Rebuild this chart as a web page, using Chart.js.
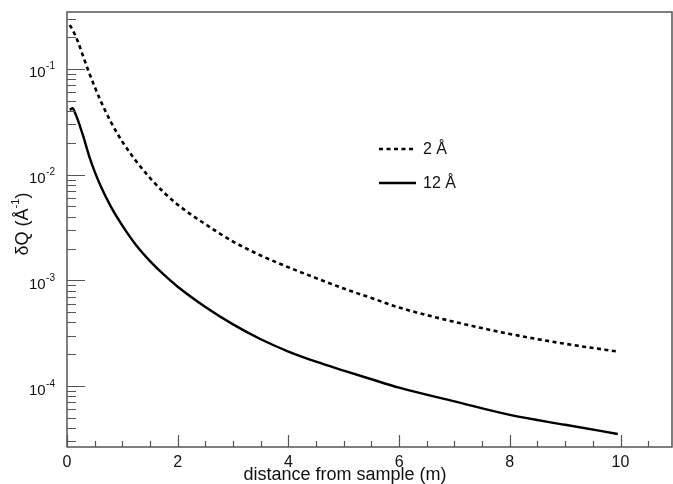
<!DOCTYPE html>
<html>
<head>
<meta charset="utf-8">
<script src="https://cdn.jsdelivr.net/npm/chart.js"></script>
<style>
  html, body { margin: 0; padding: 0; background: #fff; }
  #wrap { width: 673px; height: 484px; }
</style>
</head>
<body>
<div id="wrap"><canvas id="plot"></canvas></div>
<script>
// distance from sample (m) and resolution dQ (1/Angstrom)
const distance = [0.05, 0.1, 0.15, 0.2, 0.3, 0.4, 0.5, 0.6, 0.8, 1.0, 1.25, 1.5, 1.75, 2.0,
                  2.5, 3.0, 3.5, 4.0, 4.5, 5.0, 5.5, 6.0, 7.0, 8.0, 9.0, 9.95];
const dq2A  = [0.26, 0.235, 0.207, 0.18, 0.128, 0.092, 0.068, 0.051, 0.031, 0.0205, 0.0134, 0.0093, 0.0068, 0.0052,
               0.0034, 0.00233, 0.00172, 0.00133, 0.00105, 0.000837, 0.000681, 0.000553, 0.000405, 0.000311, 0.000251, 0.000212];
const dq12A = [0.041, 0.0425, 0.038, 0.0325, 0.0225, 0.015, 0.0107, 0.008, 0.0049, 0.0033, 0.00215, 0.00152, 0.00113, 0.00087,
               0.00056, 0.000383, 0.000277, 0.000212, 0.00017, 0.00014, 0.000116, 0.0000965, 0.0000715, 0.0000533, 0.000043, 0.0000352];

const seriesLabels = ['2 Å', '12 Å'];
const xTickValues = [0, 2, 4, 6, 8, 10];
const xTickLabels = ['0', '2', '4', '6', '8', '10'];
const xMinorStep = 0.5;
const yTickValues = [1e-4, 1e-3, 1e-2, 1e-1];
const yTickExponents = ['-4', '-3', '-2', '-1'];
const xTitle = 'distance from sample (m)';

const X_MIN = 0, X_MAX = 10.93;
const Y_MIN = 2.65e-5, Y_MAX = 0.346;

const FONT = '"Liberation Sans", Arial, sans-serif';
const AXIS_COLOR = '#555';

function pts(ys) {
  return distance.map((d, i) => ({ x: d, y: ys[i] }));
}

// ROOT-like frame: ticks drawn inward, 10^n labels with superscripts
const rootAxes = {
  id: 'rootAxes',
  afterDraw(chart) {
    const { ctx, chartArea: a, scales } = chart;
    const xs = scales.x, ys = scales.y;
    ctx.save();

    // frame
    ctx.strokeStyle = AXIS_COLOR;
    ctx.lineWidth = 1.5;
    ctx.strokeRect(a.left, a.top, a.right - a.left, a.bottom - a.top);

    // x ticks
    ctx.lineWidth = 1.2;
    ctx.beginPath();
    for (let v = X_MIN; v <= X_MAX + 1e-9; v += xMinorStep) {
      const px = Math.round(xs.getPixelForValue(v)) + 0.5;
      const major = xTickValues.some(t => Math.abs(t - v) < 1e-6);
      ctx.moveTo(px, a.bottom);
      ctx.lineTo(px, a.bottom - (major ? 12 : 6));
    }
    // y ticks
    for (let e = -5; e <= 0; e++) {
      for (let m = 1; m <= 9; m++) {
        const v = m * Math.pow(10, e);
        if (v < Y_MIN || v > Y_MAX) continue;
        const py = Math.round(ys.getPixelForValue(v)) + 0.5;
        ctx.moveTo(a.left, py);
        ctx.lineTo(a.left + (m === 1 ? 18 : 9), py);
      }
    }
    ctx.stroke();

    // x labels
    ctx.fillStyle = '#111';
    ctx.font = '16px ' + FONT;
    ctx.textAlign = 'center';
    ctx.textBaseline = 'alphabetic';
    xTickValues.forEach((v, i) => {
      ctx.fillText(xTickLabels[i], xs.getPixelForValue(v), a.bottom + 19.5);
    });

    // y labels: 10 with superscript exponent
    yTickValues.forEach((v, i) => {
      const py = ys.getPixelForValue(v);
      const right = a.left - 12;
      ctx.textAlign = 'right';
      ctx.font = '10px ' + FONT;
      const ws = ctx.measureText(yTickExponents[i]).width;
      ctx.fillText(yTickExponents[i], right, py + 0.5);
      ctx.font = '15px ' + FONT;
      ctx.fillText('10', right - ws - 0.5, py + 8.5);
    });

    // x title
    ctx.font = '18px ' + FONT;
    ctx.textAlign = 'center';
    ctx.fillText(xTitle, 345, 480);

    // y title, rotated: dQ (A^-1)
    ctx.save();
    ctx.translate(28, 224);
    ctx.rotate(-Math.PI / 2);
    ctx.textAlign = 'left';
    const parts = [
      { t: '\u03B4Q (\u00C5', f: '18px ', dy: 0 },
      { t: '-1', f: '11px ', dy: -9 },
      { t: ')', f: '18px ', dy: 0 }
    ];
    let total = 0;
    parts.forEach(p => { ctx.font = p.f + FONT; p.w = ctx.measureText(p.t).width; total += p.w; });
    let cx = -total / 2;
    parts.forEach(p => { ctx.font = p.f + FONT; ctx.fillText(p.t, cx, p.dy); cx += p.w; });
    ctx.restore();

    // legend inside the frame
    const rows = [149, 183];
    chart.data.datasets.forEach((ds, i) => {
      const y0 = rows[i];
      ctx.strokeStyle = ds.borderColor;
      ctx.lineWidth = ds.borderWidth;
      ctx.setLineDash(ds.borderDash || []);
      ctx.beginPath();
      ctx.moveTo(379, y0);
      ctx.lineTo(416, y0);
      ctx.stroke();
      ctx.setLineDash([]);
      ctx.fillStyle = '#111';
      ctx.font = '16px ' + FONT;
      ctx.textAlign = 'left';
      ctx.textBaseline = 'middle';
      ctx.fillText(seriesLabels[i], 423, y0 + 1);
    });

    ctx.restore();
  }
};

new Chart(document.getElementById('plot'), {
  type: 'line',
  data: {
    datasets: [
      {
        label: seriesLabels[0],
        data: pts(dq2A),
        borderColor: '#000',
        borderWidth: 2.6,
        borderDash: [4, 3.5],
        pointRadius: 0,
        fill: false,
        cubicInterpolationMode: 'monotone'
      },
      {
        label: seriesLabels[1],
        data: pts(dq12A),
        borderColor: '#000',
        borderWidth: 2.4,
        pointRadius: 0,
        fill: false,
        cubicInterpolationMode: 'monotone'
      }
    ]
  },
  options: {
    responsive: true,
    maintainAspectRatio: false,
    animation: false,
    layout: { padding: { left: 67, top: 12, right: 1, bottom: 37 } },
    scales: {
      x: { type: 'linear', min: X_MIN, max: X_MAX, display: false },
      y: { type: 'logarithmic', min: Y_MIN, max: Y_MAX, display: false }
    },
    plugins: {
      legend: { display: false },
      tooltip: { enabled: false }
    }
  },
  plugins: [rootAxes]
});
</script>
</body>
</html>
